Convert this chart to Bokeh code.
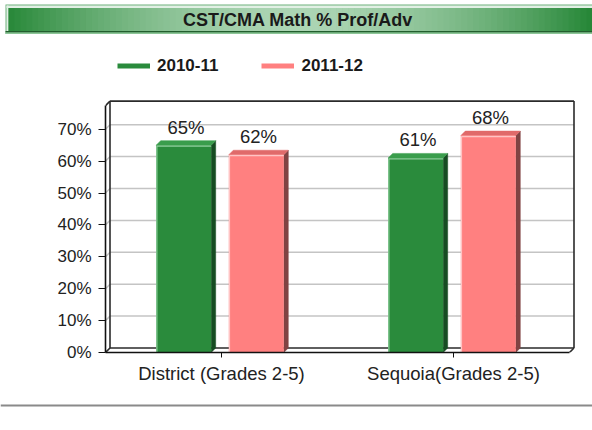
import numpy as np
from bokeh.plotting import figure
from bokeh.layouts import column
from bokeh.models import (Range1d, FixedTicker, PrintfTickFormatter, Span, Legend, LegendItem)
from bokeh.core.properties import value
from bokeh.embed import file_html
from bokeh.resources import INLINE

# ---------------- data ----------------
title_text = "CST/CMA Math % Prof/Adv"
categories = ["District (Grades 2-5)", "Sequoia(Grades 2-5)"]
series_names = ["2010-11", "2011-12"]
values_2010_11 = [65, 61]
values_2011_12 = [62, 68]
y_ticks = [0, 10, 20, 30, 40, 50, 60, 70]
y_axis_max = 77.4

# ---------------- style ----------------
FONT = "Liberation Sans"
W, H = 592, 430
front_colors = ["#2a8b3c", "#ff8080"]
side_colors = ["#164c22", "#804343"]
top_colors = ["#3a9d4c", "#e06a6a"]
hi_colors = ["#8fd09c", "#ffc4c4"]
label_color = "#222222"

# ---------------- title + legend strip ----------------
TH = 88
top = figure(width=W, height=TH, x_range=Range1d(0, W), y_range=Range1d(TH, 0),
             output_backend="svg", toolbar_location=None, min_border=0,
             x_axis_location=None, y_axis_location=None)
top.grid.visible = False
top.outline_line_color = None
top.frame_align = False

def band(l, r, t, b, color):
    top.quad(left=l, right=r, top=t, bottom=b, fill_color=color, line_color=None)

band([5], [W + 1], [4], [33.5], "#6fb27c")
band([6], [W + 1], [5], [7.5], "#e2f0e5")
band([6], [8], [5], [30.5], "#e2f0e5")
n = 98
edges = np.linspace(8, W, n + 1)
mids = (edges[:-1] + edges[1:]) / 2
tt = np.clip(np.abs(mids - 298.0) / 292.0, 0, 1) ** 1.7
dark = np.array([38, 135, 55])
light = np.array([172, 213, 180])
cols = ["#%02x%02x%02x" % tuple(int(round(c)) for c in light + (dark - light) * t) for t in tt]
top.quad(left=edges[:-1], right=edges[1:] + 0.6, top=7.5, bottom=30.5, fill_color=cols, line_color=None)
band([5], [W + 1], [30.5], [32], "#225e2d")
band([5], [W + 1], [32], [33.5], "#8cc597")
top.text(x=[297.5], y=[19.5], text=[title_text], text_font=value(FONT), text_font_size="18px",
         text_font_style="bold", text_align="center", text_baseline="middle", text_color="#1a1a1a")

# legend (real Legend; sample renderers hold points outside the visible range)
items = []
for i, name in enumerate(series_names):
    r = top.line(x=[-50, -40], y=[-50, -50], line_color=front_colors[i], line_width=5)
    items.append(LegendItem(label=name, renderers=[r]))
legend = Legend(items=items, orientation="horizontal", location=(117, TH - 75.5),
                glyph_width=33, glyph_height=17, label_height=17, label_standoff=7, spacing=43,
                padding=0, margin=0, border_line_color=None, background_fill_alpha=0,
                label_text_font=FONT, label_text_font_size="17px", label_text_font_style="bold",
                label_text_color="#1a1a1a", label_text_baseline="middle")
top.add_layout(legend, "center")

# ---------------- main chart ----------------
MH = 310
PX_X = 232.0   # px per category
PX_Y = 3.19    # px per percent
FL, FR, FT, FB = 105, 575, 98, 352   # frame box in page pixels
FW, FH = FR - FL, FB - FT
p = figure(width=W, height=MH,
           x_range=Range1d(0, FW / PX_X), y_range=Range1d(0, FH / PX_Y),
           min_border_left=FL, min_border_right=W - FR,
           min_border_top=FT - TH, min_border_bottom=TH + MH - FB,
           output_backend="svg", toolbar_location=None)
p.grid.visible = False
p.outline_line_color = None
p.background_fill_color = "white"
p.frame_align = False

dx = 4.5 / PX_X
dy = 4.5 / PX_Y
ncat = len(categories)
xr = float(ncat)

gv = [v for v in y_ticks if v > 0]
p.segment(x0=[0] * len(gv), y0=gv, x1=[dx] * len(gv), y1=[v + dy for v in gv],
          line_color="#c4c4c4", line_width=1.5)
p.segment(x0=[dx] * len(gv), y0=[v + dy for v in gv], x1=[xr + dx] * len(gv), y1=[v + dy for v in gv],
          line_color="#c4c4c4", line_width=1.5)

wall_c = "#2a2a2a"
p.segment(x0=[dx, dx, xr + dx, dx, 0, 0, xr],
          y0=[dy, y_axis_max + dy, y_axis_max + dy, dy, y_axis_max, 0, 0],
          x1=[dx, xr + dx, xr + dx, xr + dx, dx, dx, xr + dx],
          y1=[y_axis_max + dy, y_axis_max + dy, dy, dy, y_axis_max + dy, dy, dy],
          line_color=wall_c, line_width=1.6)

BW = 0.237
offsets = [-0.163, 0.150]
series_vals = [values_2010_11, values_2011_12]
for i, vals in enumerate(series_vals):
    c = np.arange(ncat) + 0.5 + offsets[i]
    v = np.array(vals, dtype=float)
    x0 = c - BW / 2
    x1 = c + BW / 2
    p.patches(xs=[[a, a + dx, a + dx, a] for a in x1],
              ys=[[0, dy, h + dy, h] for h in v],
              fill_color=side_colors[i], line_color=side_colors[i], line_width=0.5)
    p.patches(xs=[[a, a + dx, b + dx, b] for a, b in zip(x0, x1)],
              ys=[[h, h + dy, h + dy, h] for h in v],
              fill_color=top_colors[i], line_color=top_colors[i], line_width=0.5)
    p.quad(left=x0, right=x1, bottom=0, top=v, fill_color=front_colors[i], line_color=None)
    p.multi_line(xs=[[a + 0.003, a + 0.003, b] for a, b in zip(x0, x1)],
                 ys=[[0, h - 0.3, h - 0.3] for h in v],
                 line_color=hi_colors[i], line_width=1.2)
    p.text(x=c + dx / 2, y=v + dy, text=["%d%%" % h for h in vals], text_font=value(FONT),
           text_font_size="18.5px", text_align="center", text_baseline="bottom",
           y_offset=-3, text_color=label_color)

xa = p.xaxis[0]
xa.ticker = FixedTicker(ticks=[k + 0.5 for k in range(ncat)])
xa.major_label_overrides = {k + 0.5: cat for k, cat in enumerate(categories)}
xa.bounds = (0, xr)
xa.axis_line_color = "#111111"
xa.axis_line_width = 1.6
xa.major_tick_out = 5
xa.major_tick_in = 0
xa.major_tick_line_color = "#111111"
xa.minor_tick_line_color = None
xa.major_label_text_font = FONT
xa.major_label_text_font_size = "18.5px"
xa.major_label_text_color = label_color
xa.major_label_standoff = 5

ya = p.yaxis[0]
ya.ticker = FixedTicker(ticks=y_ticks)
ya.formatter = PrintfTickFormatter(format="%d%%")
ya.bounds = (0, y_axis_max)
ya.axis_line_color = "#111111"
ya.axis_line_width = 1.6
ya.major_tick_out = 7
ya.major_tick_in = 0
ya.major_tick_line_color = "#111111"
ya.minor_tick_line_color = None
ya.major_label_text_font = FONT
ya.major_label_text_font_size = "17px"
ya.major_label_text_color = label_color
ya.major_label_standoff = 7

# ---------------- bottom rule ----------------
BH = H - TH - MH
bot = figure(width=W, height=BH, x_range=Range1d(0, W), y_range=Range1d(BH, 0),
             output_backend="svg", toolbar_location=None, min_border=0,
             x_axis_location=None, y_axis_location=None)
bot.grid.visible = False
bot.outline_line_color = None
bot.frame_align = False
bot.add_layout(Span(location=405 - TH - MH, dimension="width", line_color="#8a8a8a", line_width=2))

layout = column(top, p, bot)
open("out.html", "w").write(file_html(layout, INLINE))
